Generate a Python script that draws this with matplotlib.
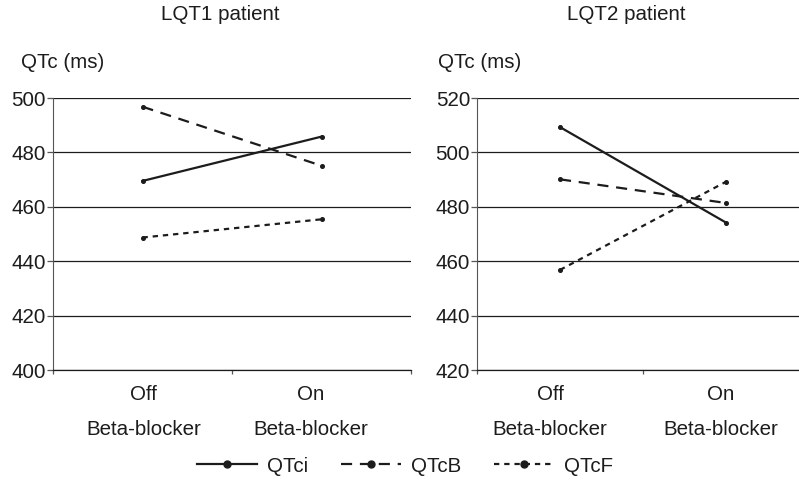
import matplotlib.pyplot as plt
from matplotlib.lines import Line2D

plt.rcParams['font.family'] = ['Liberation Sans', 'DejaVu Sans']

# QTc values (ms) off / on beta-blocker
conditions = ['Off', 'On']
lqt1_qtci = [469.5, 485.8]
lqt1_qtcb = [496.8, 475.1]
lqt1_qtcf = [448.7, 455.4]
lqt2_qtci = [509.3, 474.2]
lqt2_qtcb = [490.1, 481.4]
lqt2_qtcf = [456.8, 489.2]

titles = ['LQT1 patient', 'LQT2 patient']
y_ranges = [(400, 500), (420, 520)]

ink = '#1c1c1c'
fs = 14.8
styles = {
    'QTci': dict(linestyle='-'),
    'QTcB': dict(linestyle=(0, (5, 3.5))),
    'QTcF': dict(linestyle=(0, (2.4, 2.2))),
}

fig = plt.figure(figsize=(7.99, 4.90), dpi=100)
ax1 = fig.add_axes([53 / 799, 1 - 370 / 490, 358 / 799, 272 / 490])
ax2 = fig.add_axes([477 / 799, 1 - 370 / 490, 332 / 799, 272 / 490])

panels = [
    (ax1, [lqt1_qtci, lqt1_qtcb, lqt1_qtcf], [0.005, 0.94]),
    (ax2, [lqt2_qtci, lqt2_qtcb, lqt2_qtcf], [-0.06, 0.97]),
]

for i, (ax, series, label_pos) in enumerate(panels):
    x = range(len(conditions))
    for name, vals in zip(styles, series):
        ax.plot(x, vals, color=ink, linewidth=1.6, marker='o', markersize=2.6,
                **styles[name])
    lo, hi = y_ranges[i]
    ax.set_ylim(lo, hi)
    ax.set_xlim(-0.5, 1.5)
    ax.set_yticks(range(lo, hi + 1, 20))
    ax.yaxis.grid(True, color=ink, linewidth=0.9)
    ax.set_axisbelow(True)
    for side in ['top', 'right']:
        ax.spines[side].set_visible(False)
    ax.spines['left'].set_color('#555555')
    ax.spines['bottom'].set_color(ink)
    ax.spines['bottom'].set_linewidth(0.9)
    ax.tick_params(axis='y', length=4, width=0.9, color='#555555',
                   labelsize=fs, labelcolor=ink, pad=1)
    # boundary ticks on the category axis, labels sit between them
    ax.set_xticks([-0.5, 0.5, 1.5])
    ax.set_xticklabels([])
    ax.tick_params(axis='x', which='major', length=3, width=0.9, color='#555555')
    ax.set_xticks(label_pos, minor=True)
    ax.set_xticklabels([c + '\nBeta-blocker' for c in conditions], minor=True,
                       linespacing=2.05)
    ax.tick_params(axis='x', which='minor', length=0, labelsize=fs,
                   labelcolor=ink, pad=11)

fig.text(220 / 799, 1 - 15 / 490, titles[0], fontsize=fs, color=ink,
         ha='center', va='center')
fig.text(626 / 799, 1 - 15 / 490, titles[1], fontsize=fs, color=ink,
         ha='center', va='center')
fig.text(21 / 799, 1 - 63 / 490, 'QTc (ms)', fontsize=fs, color=ink, va='center')
fig.text(438 / 799, 1 - 63 / 490, 'QTc (ms)', fontsize=fs, color=ink, va='center')

handles = [Line2D([], [], color=ink, linewidth=1.6, marker='o', markersize=5,
                  **styles[name]) for name in styles]
fig.legend(handles, list(styles), loc='center',
           bbox_to_anchor=(405 / 799, 1 - 466 / 490),
           ncol=3, frameon=False, fontsize=fs, handlelength=2.9,
           handletextpad=0.5, columnspacing=1.6, numpoints=1, labelcolor=ink)

fig.savefig('out.png', dpi=100)
